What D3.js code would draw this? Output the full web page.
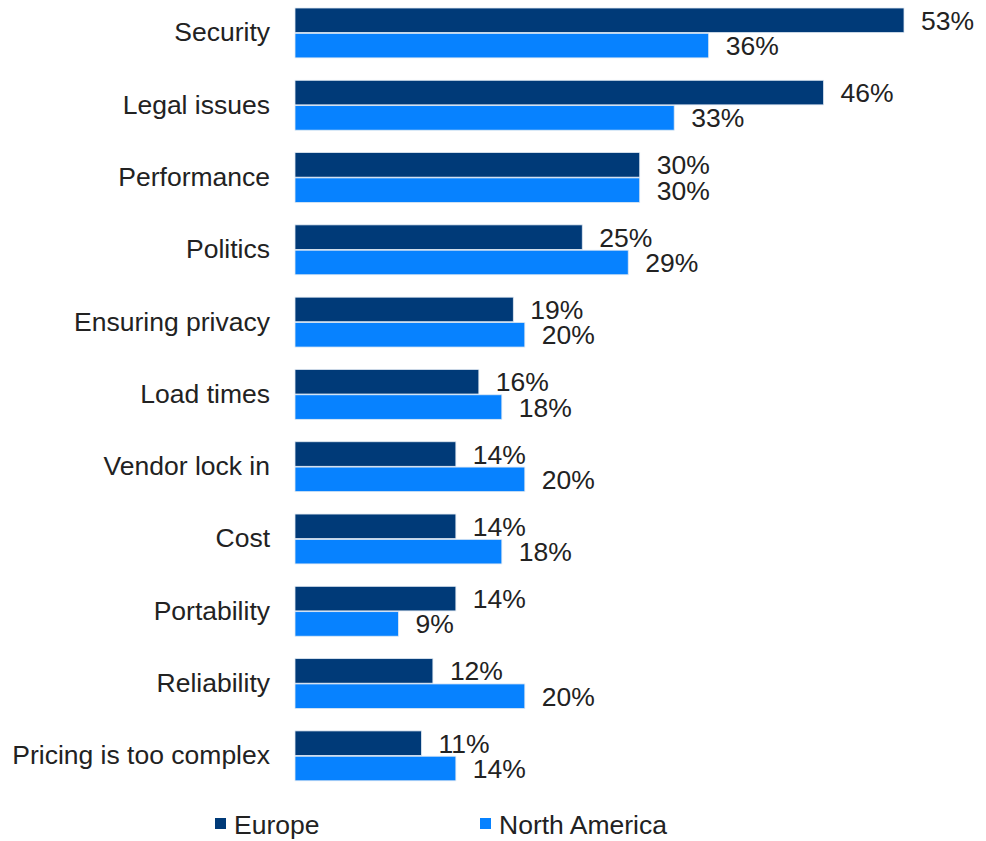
<!DOCTYPE html>
<html>
<head>
<meta charset="utf-8">
<script src="https://cdn.jsdelivr.net/npm/d3@7"></script>
<style>
  body { margin: 0; background: #fff; }
  text { font-family: "Liberation Sans", Arial, sans-serif; fill: #222; }
</style>
</head>
<body>
<div id="chart"></div>
<script>
// datos del grafico
var categorias = ["Security", "Legal issues", "Performance", "Politics", "Ensuring privacy",
  "Load times", "Vendor lock in", "Cost", "Portability", "Reliability", "Pricing is too complex"];
var series = ["Europe", "North America"];
var europa = [53, 46, 30, 25, 19, 16, 14, 14, 14, 12, 11];
var norteamerica = [36, 33, 30, 29, 20, 18, 20, 18, 9, 20, 14];
var colores = ["#003a78", "#0782ff"];

var chart_width = 986;
var chart_height = 841;
var tam_fuente = "26.5px";

var svg = d3.select("#chart")
  .append("svg")
  .attr("width", chart_width)
  .attr("height", chart_height);

// escalas
var escalaX = d3.scaleLinear()
  .domain([0, 53])
  .range([295, 904]);

var escalaY = d3.scaleBand()
  .domain(categorias)
  .range([-3.2, 792])
  .paddingInner(0.31)
  .paddingOuter(0.155);

var escalaSerie = d3.scaleBand()
  .domain(series)
  .range([0, escalaY.bandwidth()])
  .paddingInner(0.03);

var color = d3.scaleOrdinal().domain(series).range(colores);

var filas = categorias.map(function (c, i) {
  return { cat: c, valores: [
    { serie: "Europe", v: europa[i] },
    { serie: "North America", v: norteamerica[i] }
  ] };
});

// eje de categorias
var ejeY = d3.axisLeft(escalaY).tickSize(0).tickPadding(25);
var gEje = svg.append("g")
  .attr("transform", "translate(" + escalaX(0) + ",0)")
  .call(ejeY);
gEje.select(".domain").remove();
gEje.selectAll("text")
  .style("font-size", tam_fuente)
  .style("font-family", "'Liberation Sans', Arial, sans-serif")
  .attr("fill", "#222");

// barras
var grupos = svg.selectAll(".grupo")
  .data(filas)
  .enter()
  .append("g")
  .attr("class", "grupo")
  .attr("transform", function (d) { return "translate(0," + escalaY(d.cat) + ")"; });

grupos.selectAll("rect")
  .data(function (d) { return d.valores; })
  .enter()
  .append("rect")
  .attr("x", escalaX(0))
  .attr("y", function (d) { return escalaSerie(d.serie); })
  .attr("width", function (d) { return escalaX(d.v) - escalaX(0); })
  .attr("height", escalaSerie.bandwidth())
  .attr("fill", function (d) { return color(d.serie); })
  .attr("stroke", "#dfe8f2")
  .attr("stroke-width", 0.8);

// etiquetas de valores
grupos.selectAll(".valor")
  .data(function (d) { return d.valores; })
  .enter()
  .append("text")
  .attr("class", "valor")
  .attr("x", function (d) { return escalaX(d.v) + 17; })
  .attr("y", function (d) { return escalaSerie(d.serie) + escalaSerie.bandwidth() / 2; })
  .attr("dy", "0.36em")
  .style("font-size", tam_fuente)
  .text(function (d) { return d.v + "%"; });

// leyenda
var leyendaX = [215, 480];
var leyenda = svg.selectAll(".leyenda")
  .data(series)
  .enter()
  .append("g")
  .attr("class", "leyenda")
  .attr("transform", function (d, i) { return "translate(" + leyendaX[i] + ",824)"; });

leyenda.append("rect")
  .attr("x", 0)
  .attr("y", -6)
  .attr("width", 11)
  .attr("height", 11)
  .attr("fill", function (d) { return color(d); });

leyenda.append("text")
  .attr("x", 19)
  .attr("y", 0)
  .attr("dy", "0.36em")
  .style("font-size", tam_fuente)
  .text(function (d) { return d; });
</script>
</body>
</html>
